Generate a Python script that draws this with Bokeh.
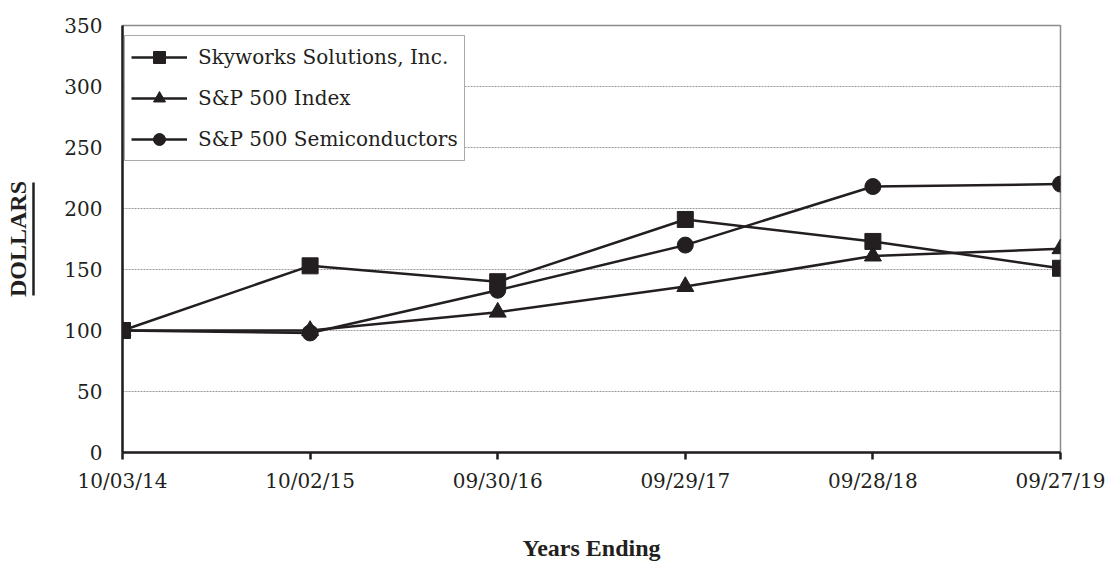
from bokeh.plotting import figure
from bokeh.models import (FixedTicker, Legend, LegendItem, LinearAxis, Range1d)
from bokeh.embed import file_html
from bokeh.resources import INLINE

# Cumulative total return, $100 invested on 10/03/14
dates = ["10/03/14", "10/02/15", "09/30/16", "09/29/17", "09/28/18", "09/27/19"]
skyworks = [100, 153, 140, 191, 173, 151]
sp500 = [100, 100, 115, 136, 161, 167]
semis = [100, 98, 133, 170, 218, 220]
series_names = ["Skyworks Solutions, Inc.", "S&P 500 Index", "S&P 500 Semiconductors"]
y_ticks = [0, 50, 100, 150, 200, 250, 300, 350]

INK = "#231f20"
BOLD_FONT = "Liberation Serif"
TEXT_FONT = "DejaVu Serif"

x = list(range(len(dates)))

p = figure(width=1109, height=563, output_backend="svg", toolbar_location=None,
           x_range=Range1d(0, len(dates) - 1), y_range=Range1d(0, 350),
           min_border_left=122, min_border_right=49, min_border_top=25,
           min_border_bottom=111)
p.background_fill_color = "white"
p.border_fill_color = "white"
p.outline_line_color = "#8c8c8c"
p.outline_line_width = 1.5

# axes
p.xaxis.ticker = FixedTicker(ticks=x)
p.xaxis.major_label_overrides = {i: d for i, d in enumerate(dates)}
p.yaxis.ticker = FixedTicker(ticks=y_ticks)
for ax in (p.xaxis[0], p.yaxis[0]):
    ax.axis_line_color = INK
    ax.axis_line_width = 2.5
    ax.major_label_text_font = TEXT_FONT
    ax.major_label_text_font_size = "20px"
    ax.major_label_text_color = INK
    ax.minor_tick_line_color = None
    ax.axis_label_text_font = BOLD_FONT
    ax.axis_label_text_font_size = "24px"
    ax.axis_label_text_font_style = "bold"
    ax.axis_label_text_color = INK
p.xaxis.major_tick_line_color = INK
p.xaxis.major_tick_line_width = 2.5
p.xaxis.major_tick_out = 7
p.xaxis.major_tick_in = 0
p.xaxis.major_label_standoff = 9
p.xaxis.axis_label = "Years Ending"
p.xaxis.axis_label_standoff = 39
p.yaxis.major_tick_line_color = None
p.yaxis.major_tick_out = 0
p.yaxis.major_tick_in = 0
p.yaxis.major_label_standoff = 20
p.yaxis.axis_label = " "
p.yaxis.axis_label_text_font_size = "1px"
p.yaxis.axis_label_standoff = 24

# outer left axis: a short bounded axis line that underlines the title
title_axis = LinearAxis(ticker=FixedTicker(ticks=[]), bounds=(128.7, 221.3),
                        axis_line_color=INK, axis_line_width=2.5,
                        major_tick_line_color=None, minor_tick_line_color=None,
                        major_label_text_font_size="0px",
                        axis_label="DOLLARS", axis_label_standoff=3,
                        axis_label_text_font=BOLD_FONT,
                        axis_label_text_font_size="24px",
                        axis_label_text_font_style="bold",
                        axis_label_text_color=INK)
p.add_layout(title_axis, "left")

p.xgrid.grid_line_color = None
p.ygrid.grid_line_color = "#9a9a9a"
p.ygrid.grid_line_width = 1
p.ygrid.grid_line_dash = "2 1"

items = []
for vals, name, marker, size in [(skyworks, series_names[0], "square", 16),
                                 (sp500, series_names[1], "triangle", 17),
                                 (semis, series_names[2], "circle", 16)]:
    ln = p.line(x, vals, line_color=INK, line_width=2.5)
    mk = p.scatter(x, vals, marker=marker, size=size, fill_color=INK,
                   line_color=INK)
    items.append(LegendItem(label=name, renderers=[ln, mk]))

legend = Legend(items=items, location=(2, 291), margin=0, padding=6,
                spacing=11, glyph_width=56, glyph_height=30, label_height=30,
                label_standoff=11, label_text_font=TEXT_FONT,
                label_text_font_size="20px", label_text_color=INK,
                border_line_color="#555555", border_line_width=1.5,
                background_fill_color="white", background_fill_alpha=1)
p.add_layout(legend)

open("out.html", "w").write(file_html(p, INLINE))
